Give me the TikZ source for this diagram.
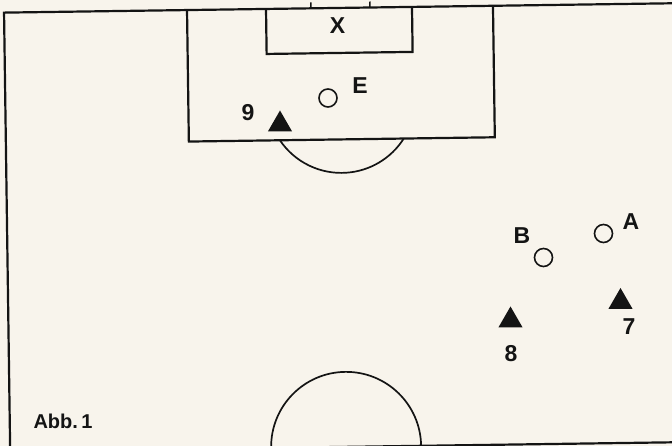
\documentclass[tikz,border=0pt]{standalone}
\usepackage{fontspec}
\setmainfont{Liberation Sans}
\usetikzlibrary{shapes.geometric}
\definecolor{paper}{RGB}{248,244,236}
\definecolor{ink}{RGB}{20,20,20}

\begin{document}
\begin{tikzpicture}[
  x=1pt, y=1pt,
  fieldline/.style={draw=ink, line width=2.2pt},
  opponent/.style={circle, draw=ink, line width=1.6pt, minimum size=18pt, inner sep=0pt},
  player/.style={regular polygon, regular polygon sides=3, fill=ink, minimum size=28pt, inner sep=0pt},
  lbl/.style={text=ink, font=\fontsize{23}{25}\selectfont\bfseries, inner sep=0pt}
]
\fill[paper] (0,0) rectangle (672,446);
\useasboundingbox (0,0) rectangle (672,446);
\clip (0,0) rectangle (672,446);

% pitch (the scan is slightly tilted)
\begin{scope}[rotate around={0.8:(336,223)}]
  \draw[fieldline] (7,-20) -- (7,438) -- (700,438);
  \draw[fieldline] (7,-1) -- (700,-1);
  \draw[fieldline] (190,438) -- (190,306.5) -- (496,306.5) -- (496,438);
  \draw[fieldline] (269,438) -- (269,393) -- (415,393) -- (415,438);
  \draw[fieldline, line width=1.5pt] (314,438) -- (314,444);
  \draw[fieldline, line width=1.5pt] (373,438) -- (373,444);
  \draw[fieldline, line width=1.7pt] (343,347) ++(213.2:74) arc[start angle=213.2, end angle=326.8, radius=74];
  \draw[fieldline, line width=1.7pt] (418,-1) arc[start angle=0, end angle=180, radius=75];
\end{scope}

% players
\node[lbl] (goal) at (337.5,420) {X};
\node[opponent] (e) at (328,348) {};
\node[lbl] (elbl) at (360,360) {E};
\node[player] (p9) at (280,321.5) {};
\node[lbl] (p9lbl) at (248,333) {9};
\node[opponent] (a) at (603.5,212.5) {};
\node[lbl] (albl) at (631,224) {A};
\node[opponent] (b) at (543.5,188.5) {};
\node[lbl] (blbl) at (522,210) {B};
\node[player] (p7) at (620.5,144) {};
\node[lbl] (p7lbl) at (629,119) {7};
\node[player] (p8) at (510.5,125.5) {};
\node[lbl] (p8lbl) at (511,92) {8};
\node[lbl, font=\fontsize{20}{22}\selectfont\bfseries] (abb) at (63,25) {Abb.\,1};
\end{tikzpicture}
\end{document}
